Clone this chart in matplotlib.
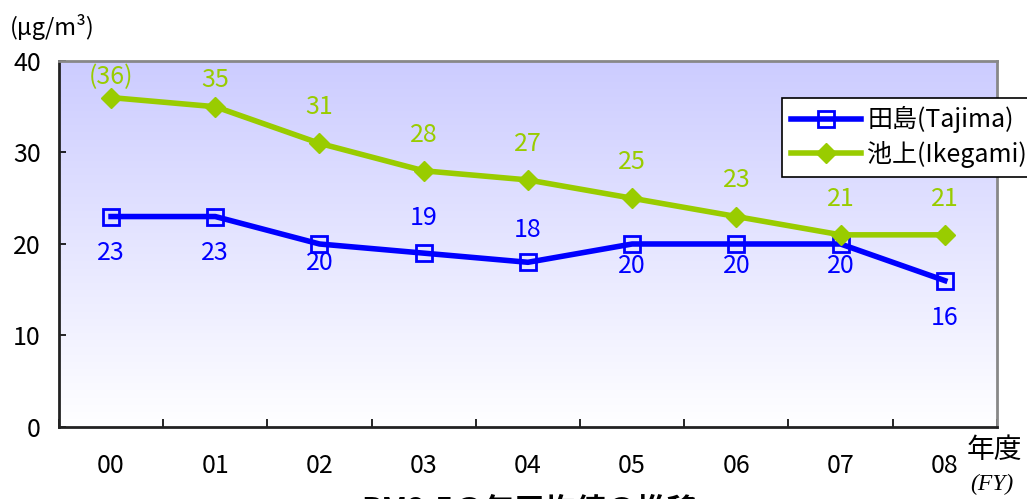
import numpy as np
import matplotlib
matplotlib.use("Agg")
import matplotlib.pyplot as plt
from matplotlib.colors import LinearSegmentedColormap

plt.rcParams['font.family'] = ['Noto Sans CJK JP', 'DejaVu Sans']

# Annual mean concentration by fiscal year
years = ['00', '01', '02', '03', '04', '05', '06', '07', '08']
tajima = [23, 23, 20, 19, 18, 20, 20, 20, 16]
ikegami = [36, 35, 31, 28, 27, 25, 23, 21, 21]
ikegami_labels = ['(36)', '35', '31', '28', '27', '25', '23', '21', '21']
# label offsets in points: negative = below the point
tajima_offsets = [-26, -26, -14, 25, 23, -16, -16, -16, -27]
ikegami_offsets = [15, 19, 26, 26, 26, 26, 26, 26, 26]

BLUE = '#0000FF'
GREEN = '#99CC00'

fig = plt.figure(figsize=(10.27, 4.99), dpi=100)
ax = fig.add_axes([0.0574, 0.1443, 0.9133, 0.7335])

x = np.arange(len(years))

# lavender-to-white background
cmap = LinearSegmentedColormap.from_list('bg', ['#FFFFFF', '#CCCCFF'])
grad = np.linspace(0, 1, 256).reshape(-1, 1)
ax.imshow(grad, cmap=cmap, aspect='auto', origin='lower',
          extent=(0, 1, 0, 1), transform=ax.transAxes, zorder=0)

ax.plot(x, tajima, color=BLUE, lw=4, marker='s', ms=12,
        mfc='none', mec=BLUE, mew=2, zorder=3, label='田島(Tajima)')
ax.plot(x, ikegami, color=GREEN, lw=4, marker='D', ms=10,
        mfc=GREEN, mec=GREEN, zorder=3, label='池上(Ikegami)')

for xi, v, off in zip(x, tajima, tajima_offsets):
    ax.annotate(str(v), (xi, v), xytext=(0, off), textcoords='offset points',
                ha='center', va='center', fontsize=18, color=BLUE, zorder=4)
for xi, v, lab, off in zip(x, ikegami, ikegami_labels, ikegami_offsets):
    ax.annotate(lab, (xi, v), xytext=(0, off), textcoords='offset points',
                ha='center', va='center', fontsize=18, color=GREEN, zorder=4)

ax.set_xlim(-0.5, len(years) - 0.5)
ax.set_ylim(0, 40)
ax.set_yticks([0, 10, 20, 30, 40])
ax.set_xticks(x)
ax.set_xticklabels(years)
ax.set_xticks(np.arange(len(years) + 1) - 0.5, minor=True)
ax.tick_params(axis='x', which='major', length=0, pad=19, labelsize=18)
ax.tick_params(axis='x', which='minor', direction='in', length=6, width=1.2)
ax.tick_params(axis='y', direction='in', length=5, width=1.2, pad=13, labelsize=18)

for side in ('left', 'bottom'):
    ax.spines[side].set_color('#222222')
    ax.spines[side].set_linewidth(2)
for side in ('top', 'right'):
    ax.spines[side].set_color('#888888')
    ax.spines[side].set_linewidth(2)

leg = ax.legend(loc='upper left', bbox_to_anchor=(0.771, 0.90), fontsize=18,
                frameon=True, fancybox=False, borderpad=0.35, labelspacing=0.3,
                handlelength=2.8, handletextpad=0.25, borderaxespad=0)
leg.get_frame().set_edgecolor('black')
leg.get_frame().set_linewidth(1.2)
leg.get_frame().set_facecolor('white')
leg.get_frame().set_alpha(1)

fig.text(0.01, 0.945, '(μg/m³)', fontsize=17, ha='left', va='center')
fig.text(0.941, 0.098, '年度', fontsize=20, ha='left', va='center')
fig.text(0.945, 0.03, '(FY)', fontsize=17, ha='left', va='center',
         family='Liberation Serif', style='italic')
fig.text(0.515, -0.024, 'PM2.5の年平均値の推移', fontsize=22, fontweight='bold',
         ha='center', va='center')

fig.savefig('out.png', dpi=100)
